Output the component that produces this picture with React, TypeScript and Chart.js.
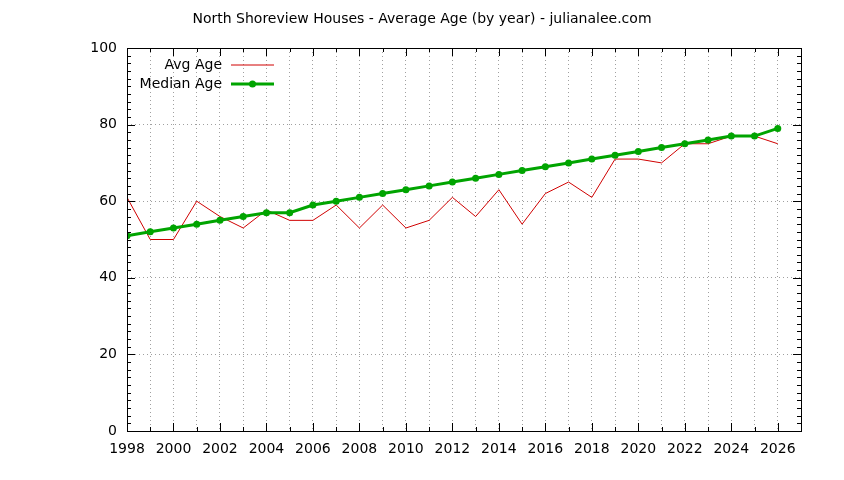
import { useEffect, useRef } from 'react';
import { Chart, ChartConfiguration, Plugin, registerables } from 'chart.js';

Chart.register(...registerables);

// data
const years = [
  1998, 1999, 2000, 2001, 2002, 2003, 2004, 2005, 2006, 2007,
  2008, 2009, 2010, 2011, 2012, 2013, 2014, 2015, 2016, 2017,
  2018, 2019, 2020, 2021, 2022, 2023, 2024, 2025, 2026,
];
const avgAge = [
  61, 50, 50, 60, 56, 53, 57.7, 55, 55, 59,
  53, 59, 53, 55, 61, 56, 63, 54, 62, 65,
  61, 71, 71, 70, 75, 75, 77, 77, 75,
];
const medianAge = [
  51, 52, 53, 54, 55, 56, 57, 57, 59, 60,
  61, 62, 63, 64, 65, 66, 67, 68, 69, 70,
  71, 72, 73, 74, 75, 76, 77, 77, 79,
];
const yTickLabels = ['0', '20', '40', '60', '80', '100'];

const TITLE = 'North Shoreview Houses - Average Age (by year) - julianalee.com';
const FONT = '"DejaVu Sans", Verdana, sans-serif';
const RED = '#d00000';
const GREEN = '#00a400';

const gnuplotFrame: Plugin = {
  id: 'gnuplotFrame',
  afterDatasetsDraw(chart) {
    const { ctx, chartArea: a } = chart;
    const xs = chart.scales.x;
    const ys = chart.scales.y;
    ctx.save();
    ctx.strokeStyle = '#000';
    ctx.lineWidth = 1;
    ctx.beginPath();
    // x ticks (mirrored on top)
    for (let yr = 1998; yr <= 2027; yr++) {
      const px = Math.round(xs.getPixelForValue(yr)) + 0.5;
      const len = yr % 2 === 0 ? 8 : 4;
      ctx.moveTo(px, a.bottom);
      ctx.lineTo(px, a.bottom - len);
      ctx.moveTo(px, a.top);
      ctx.lineTo(px, a.top + len);
    }
    // y ticks (mirrored on right)
    for (let v = 0; v <= 100; v += 2) {
      const py = Math.round(ys.getPixelForValue(v)) + 0.5;
      const len = v % 20 === 0 ? 8 : 4;
      ctx.moveTo(a.left, py);
      ctx.lineTo(a.left + len, py);
      ctx.moveTo(a.right, py);
      ctx.lineTo(a.right - len, py);
    }
    ctx.stroke();
    ctx.strokeRect(Math.round(a.left) + 0.5, Math.round(a.top) + 0.5,
      Math.round(a.right - a.left), Math.round(a.bottom - a.top));

    // title
    ctx.fillStyle = '#000';
    ctx.font = `14px ${FONT}`;
    ctx.textAlign = 'center';
    ctx.textBaseline = 'middle';
    ctx.fillText(TITLE, chart.width / 2, 19);

    // legend
    ctx.font = `14px ${FONT}`;
    ctx.textAlign = 'right';
    const entries = chart.data.datasets;
    entries.forEach((ds: any, i) => {
      const ly = 65 + i * 19;
      ctx.fillStyle = '#000';
      ctx.fillText(ds.label, 222, ly);
      ctx.strokeStyle = ds.borderColor;
      ctx.lineWidth = ds.borderWidth;
      ctx.beginPath();
      ctx.moveTo(231, ly);
      ctx.lineTo(274, ly);
      ctx.stroke();
      if (ds.pointRadius > 0) {
        ctx.fillStyle = ds.pointBackgroundColor;
        ctx.beginPath();
        ctx.arc(252.5, ly, ds.pointRadius, 0, Math.PI * 2);
        ctx.fill();
      }
    });
    ctx.restore();
  },
};

export default function App() {
  const canvasRef = useRef<HTMLCanvasElement>(null);

  useEffect(() => {
    document.body.style.margin = '0';
    if (!canvasRef.current) return;

    const config: ChartConfiguration = {
      type: 'line',
      data: {
        datasets: [
          {
            label: 'Avg Age',
            data: years.map((x, i) => ({ x, y: avgAge[i] })),
            borderColor: RED,
            borderWidth: 1,
            pointRadius: 0,
            tension: 0,
            order: 2,
          },
          {
            label: 'Median Age',
            data: years.map((x, i) => ({ x, y: medianAge[i] })),
            borderColor: GREEN,
            borderWidth: 3,
            pointRadius: 3.5,
            pointBackgroundColor: GREEN,
            pointBorderColor: GREEN,
            pointBorderWidth: 0,
            tension: 0,
            order: 1,
          },
        ],
      },
      options: {
        responsive: false,
        animation: false,
        layout: { padding: { top: 48, right: 43, left: 0, bottom: 0 } },
        plugins: {
          legend: { display: false },
          title: { display: false },
          tooltip: { enabled: false },
        },
        scales: {
          x: {
            type: 'linear',
            min: 1998,
            max: 2027,
            afterFit: (s: any) => { s.height = 49; },
            ticks: {
              stepSize: 1,
              autoSkip: false,
              maxRotation: 0,
              padding: 10,
              color: '#000',
              font: { family: FONT, size: 14 },
              callback: (v: any) => (Number(v) % 2 === 0 && Number(v) <= 2026 ? String(v) : ''),
            },
            grid: { color: '#a0a0a0', lineWidth: 1, drawTicks: false },
            border: { display: false, dash: [1, 3] },
          },
          y: {
            type: 'linear',
            min: 0,
            max: 100,
            afterFit: (s: any) => { s.width = 127; },
            ticks: {
              stepSize: 20,
              padding: 10,
              color: '#000',
              font: { family: FONT, size: 14 },
              callback: (v: any) => yTickLabels[Math.round(Number(v) / 20)] ?? '',
            },
            grid: { color: '#a0a0a0', lineWidth: 1, drawTicks: false },
            border: { display: false, dash: [1, 3] },
          },
        },
      },
      plugins: [gnuplotFrame],
    };

    const chart = new Chart(canvasRef.current, config);
    return () => {
      chart.destroy();
    };
  }, []);

  return (
    <div style={{ width: 844, height: 480, background: '#fff' }}>
      <canvas ref={canvasRef} width={844} height={480} />
    </div>
  );
}
